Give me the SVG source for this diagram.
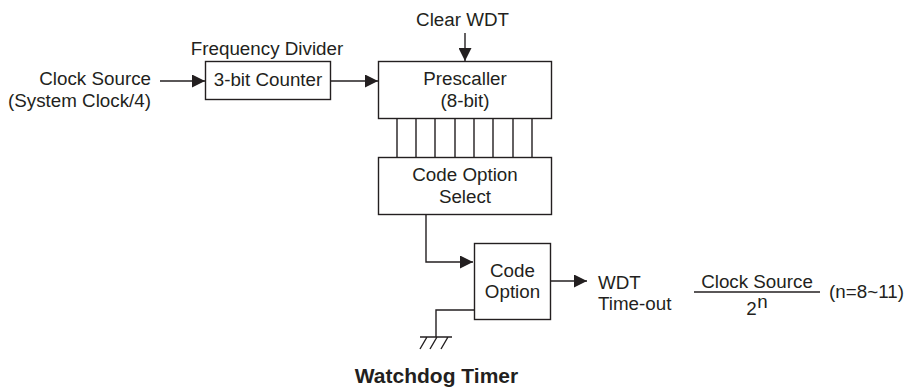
<svg xmlns="http://www.w3.org/2000/svg" width="907" height="388" viewBox="0 0 907 388">
<defs><marker id="a" markerUnits="userSpaceOnUse" markerWidth="13" markerHeight="13" refX="13" refY="6.500" orient="auto"><path d="M0,0L13,6.500L0,13Z" fill="#231f20"/></marker></defs>
<style>
text{font-family:"Liberation Sans",Arial,sans-serif;font-size:18.800px;fill:#231f20;text-anchor:middle}
.b{fill:#fff;stroke:#231f20;stroke-width:1.400}
.c{fill:none;stroke:#231f20;stroke-width:1.400}
</style>
<rect width="907" height="388" fill="#fff"/>
<g id="connectors">
<path class="c" d="M160 81H205" marker-end="url(#a)"/>
<path class="c" d="M330 81H378" marker-end="url(#a)"/>
<path class="c" d="M465 33V61" marker-end="url(#a)"/>
<path class="c" d="M397 118V157M416 118V157M435 118V157M455 118V157M474 118V157M493 118V157M513 118V157M532 118V157"/>
<path class="c" d="M426 214V262H473" marker-end="url(#a)"/>
<path class="c" d="M551 281H587" marker-end="url(#a)"/>
<path class="c" d="M474 310H436V337"/>
<path class="c" d="M420 337H452M420 349L427 337M430 349L437 337M441 349L448 337"/>
<path class="c" d="M694 292H820"/>
</g>
<g id="divider"><rect class="b" x="205.500" y="61.500" width="125" height="38"/><text x="268" y="86">3-bit Counter</text></g>
<g id="prescaler"><rect class="b" x="378.500" y="61.500" width="173" height="57"/><text x="465" y="85">Prescaller</text><text x="465" y="107">(8-bit)</text></g>
<g id="select"><rect class="b" x="378.500" y="157.500" width="173" height="57"/><text x="465" y="181">Code Option</text><text x="465" y="203">Select</text></g>
<g id="option"><rect class="b" x="474.500" y="243.500" width="76" height="76"/><text x="512.500" y="277">Code</text><text x="512.500" y="298">Option</text></g>
<g id="labels">
<text x="462.500" y="26">Clear WDT</text>
<text x="267" y="55">Frequency Divider</text>
<text x="151" y="85" style="text-anchor:end">Clock Source</text>
<text x="151" y="107" style="text-anchor:end">(System Clock/4)</text>
<text x="598" y="289" style="text-anchor:start">WDT</text>
<text x="598" y="310" style="text-anchor:start">Time-out</text>
<text x="757" y="288">Clock Source</text>
<text x="751.500" y="315">2</text><text x="762.500" y="308">n</text>
<text x="866.500" y="298">(n=8~11)</text>
<text x="436.500" y="383" style="font-weight:bold;font-size:21px">Watchdog Timer</text>
</g>
</svg>
